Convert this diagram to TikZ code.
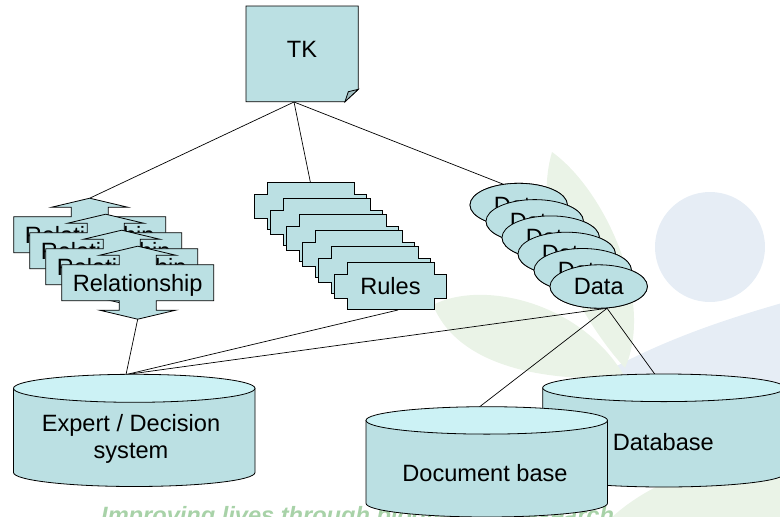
\documentclass[tikz,border=0pt]{standalone}
\usepackage{fontspec}
\setmainfont{Liberation Sans}
\usetikzlibrary{shapes.geometric}

\definecolor{boxfill}{RGB}{187,224,227}
\definecolor{cyltopfill}{RGB}{204,242,245}
\definecolor{foldfill}{RGB}{160,190,193}
\definecolor{leafgreen}{RGB}{234,243,231}
\definecolor{leafblue}{RGB}{230,237,245}
\definecolor{mottogreen}{RGB}{168,210,168}

\tikzset{
  shapeline/.style={draw=black, line width=0.8pt, fill=boxfill, line join=miter},
  link/.style={draw=black, line width=0.7pt},
  txt/.style={font=\fontsize{23.6}{27.7}\selectfont, inner sep=0pt, align=center},
  dataell/.style={ellipse, shapeline, minimum width=97.4pt, minimum height=43.4pt,
                  inner sep=0pt, font=\fontsize{23.6}{27.7}\selectfont},
}

% cylinder: left x, right x, top y, lowest y, vertical radius of the end ellipses
\newcommand{\drawcylinder}[5]{%
  \pgfmathsetmacro\cylcx{(#1+#2)/2}%
  \pgfmathsetmacro\cylrx{(#2-#1)/2}%
  \pgfmathsetmacro\cylyt{#3+#5}%
  \pgfmathsetmacro\cylyb{#4-#5}%
  \pgfmathsetmacro\cylky{0.5523*#5}%
  \pgfmathsetmacro\cylkx{0.5523*\cylrx}%
  \path[shapeline] (#1,\cylyt) -- (#1,\cylyb)
     .. controls (#1,\cylyb+\cylky) and (\cylcx-\cylkx,#4) .. (\cylcx,#4)
     .. controls (\cylcx+\cylkx,#4) and (#2,\cylyb+\cylky) .. (#2,\cylyb)
     -- (#2,\cylyt) -- cycle;
  \path[shapeline, fill=cyltopfill] (\cylcx,\cylyt) ellipse [x radius=\cylrx, y radius=#5];
}

% box with an arrow on top and bottom
\newcommand{\relbox}[3]{%
  \path[shapeline, shift={(#2,#3)}] (-76,-18) -- (-18.5,-18) -- (-18.5,-27.5) -- (-38,-27.5)
    -- (0,-36.5) -- (38,-27.5) -- (18.5,-27.5) -- (18.5,-18) -- (76,-18) -- (76,18)
    -- (18.5,18) -- (18.5,27.5) -- (38,27.5) -- (0,36.5) -- (-38,27.5) -- (-18.5,27.5)
    -- (-18.5,18) -- (-76,18) -- cycle;
  \node[txt, anchor=base] (#1) at (#2,#3+8.5) {Relationship};
}

% cross-shaped box
\newcommand{\rulebox}[4]{%
  \path[shapeline, shift={(#2,#3)}] (-43.5,-23.5) -- (43.5,-23.5) -- (43.5,-12) -- (56,-12)
    -- (56,12.5) -- (43.5,12.5) -- (43.5,23.5) -- (-43.5,23.5) -- (-43.5,12.5) -- (-56,12.5)
    -- (-56,-12) -- (-43.5,-12) -- cycle;
  \node[txt] (#1) at (#2,#3) {#4};
}

\begin{document}
\begin{tikzpicture}[x=1pt, y=-1pt]
\useasboundingbox (0,0) rectangle (780,517);
\clip (0,0) rectangle (780,517);

% faint background emblem
\fill[leafblue] (710,247) circle [radius=55];
\fill[leafblue] (595,378) .. controls (660,340) and (730,318) .. (782,303)
   -- (782,470) .. controls (720,470) and (650,420) .. cycle;
\fill[leafgreen] (552,152) .. controls (605,190) and (655,300) .. (625,368)
   .. controls (590,330) and (528,235) .. cycle;
\fill[leafgreen] (433,305) .. controls (480,280) and (580,300) .. (625,377)
   .. controls (560,382) and (460,372) .. cycle;
\fill[leafgreen] (610,519) .. controls (660,472) and (730,460) .. (782,452)
   -- (782,519) -- cycle;
\node[anchor=base west, inner sep=0pt, text=mottogreen,
      font=\fontsize{23.6}{27.7}\selectfont\bfseries\itshape] (motto) at (101,523)
      {Improving lives through biodiversity research};

% connector end points
\coordinate (tkfoot)  at (294,102);
\coordinate (rel0top) at (89.7,198.2);
\coordinate (rel3bot) at (137.7,319.2);
\coordinate (rul0top) at (310.5,182.8);
\coordinate (rul5bot) at (398,310);
\coordinate (exptop)  at (126,374.6);
\coordinate (doctop)  at (479.3,407);
\coordinate (dbtop)   at (655,374.4);

% data ellipses (placed first so their anchors exist for the links)
\path (518.7,205)   node[dataell] (d0) {Data}
      (534.7,221.3) node[dataell] (d1) {Data}
      (550.7,237.6) node[dataell] (d2) {Data}
      (566.7,253.9) node[dataell] (d3) {Data}
      (582.7,270.2) node[dataell] (d4) {Data}
      (598.7,286.5) node[dataell] (d5) {Data};

% links
\draw[link] (tkfoot) -- (rel0top);
\draw[link] (tkfoot) -- (rul0top);
\draw[link] (tkfoot) -- (d0.127);
\draw[link] (rel3bot) -- (exptop);
\draw[link] (rul5bot) -- (exptop);
\draw[link] (d5.-69) -- (exptop);
\draw[link] (d5.-69) -- (doctop);
\draw[link] (d5.-69) -- (dbtop);

% relationship stack
\relbox{rel0}{89.7}{234.7}
\relbox{rel1}{105.7}{250.7}
\relbox{rel2}{121.7}{266.7}
\relbox{rel3}{137.7}{282.7}

% rules stack
\rulebox{rul0}{310.5}{206.3}{}
\rulebox{rul1}{326.5}{222.3}{}
\rulebox{rul2}{342.5}{238.3}{}
\rulebox{rul3}{358.5}{254.3}{}
\rulebox{rul4}{374.5}{270.3}{}
\rulebox{rul5}{390.5}{286.3}{Rules}

% data stack drawn again on top of the links
\path (518.7,205)   node[dataell] {Data}
      (534.7,221.3) node[dataell] {Data}
      (550.7,237.6) node[dataell] {Data}
      (566.7,253.9) node[dataell] {Data}
      (582.7,270.2) node[dataell] {Data}
      (598.7,286.5) node[dataell] {Data};

% storage cylinders
\drawcylinder{542.7}{785}{374}{487}{13.8}
\node[txt] (db) at (663.3,441.7) {Database};
\drawcylinder{366}{607.5}{406.7}{517}{13.7}
\node[txt] (doc) at (485,473.3) {Document base};
\drawcylinder{13.5}{255}{374.3}{486.5}{14}
\node[txt] (expert) at (131,439) {Expert / Decision\\system};

% TK document with folded corner
\path[shapeline] (246,6) -- (358.3,6) -- (358.3,89.3) -- (345,101.7) -- (246,101.7) -- cycle;
\path[shapeline, fill=foldfill] (345,101.7) -- (348.3,91.7) -- (358.3,89.3) -- cycle;
\node[txt] (tk) at (302,49) {TK};
\end{tikzpicture}
\end{document}
